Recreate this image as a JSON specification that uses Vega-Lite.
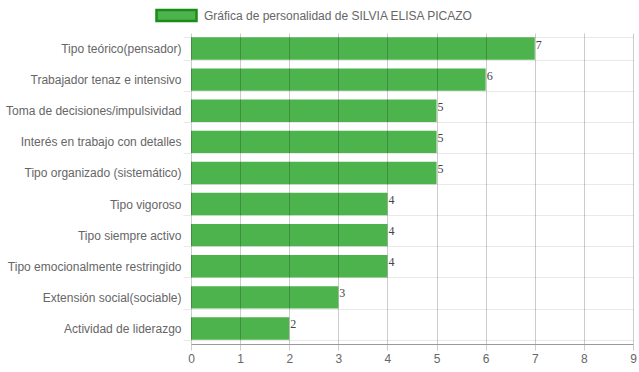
{
  "$schema": "https://vega.github.io/schema/vega-lite/v6.json",
  "width": 442,
  "height": 311,
  "autosize": "none",
  "padding": {"left": 191, "top": 33, "right": 6, "bottom": 28},
  "background": "white",
  "config": {"view": {"stroke": null}},
  "data": {
    "values": [
      {"rasgo": "Tipo teórico(pensador)", "valor": 7, "serie": "Gráfica de personalidad de SILVIA ELISA PICAZO"},
      {"rasgo": "Trabajador tenaz e intensivo", "valor": 6, "serie": "Gráfica de personalidad de SILVIA ELISA PICAZO"},
      {"rasgo": "Toma de decisiones/impulsividad", "valor": 5, "serie": "Gráfica de personalidad de SILVIA ELISA PICAZO"},
      {"rasgo": "Interés en trabajo con detalles", "valor": 5, "serie": "Gráfica de personalidad de SILVIA ELISA PICAZO"},
      {"rasgo": "Tipo organizado (sistemático)", "valor": 5, "serie": "Gráfica de personalidad de SILVIA ELISA PICAZO"},
      {"rasgo": "Tipo vigoroso", "valor": 4, "serie": "Gráfica de personalidad de SILVIA ELISA PICAZO"},
      {"rasgo": "Tipo siempre activo", "valor": 4, "serie": "Gráfica de personalidad de SILVIA ELISA PICAZO"},
      {"rasgo": "Tipo emocionalmente restringido", "valor": 4, "serie": "Gráfica de personalidad de SILVIA ELISA PICAZO"},
      {"rasgo": "Extensión social(sociable)", "valor": 3, "serie": "Gráfica de personalidad de SILVIA ELISA PICAZO"},
      {"rasgo": "Actividad de liderazgo", "valor": 2, "serie": "Gráfica de personalidad de SILVIA ELISA PICAZO"}
    ]
  },
  "encoding": {
    "y": {
      "field": "rasgo",
      "type": "nominal",
      "sort": null,
      "scale": {"paddingInner": 0.28, "paddingOuter": 0.14},
      "axis": {
        "title": null,
        "grid": true,
        "tickBand": "extent",
        "gridColor": "#e9e9e9",
        "tickColor": "#e9e9e9",
        "tickSize": 8,
        "domain": false,
        "labelPadding": 2,
        "labelColor": "#666666",
        "labelFont": "Liberation Sans",
        "labelFontSize": 12,
        "labelLimit": 400
      }
    }
  },
  "layer": [
    {
      "mark": {"type": "bar", "fill": "#4db34d"},
      "encoding": {
        "x": {
          "field": "valor",
          "type": "quantitative",
          "scale": {"domain": [0, 9], "nice": false},
          "axis": {
            "title": null,
            "values": [0, 1, 2, 3, 4, 5, 6, 7, 8, 9],
            "grid": true,
            "gridColor": "#000000",
            "gridOpacity": 0.2,
            "tickColor": "#000000",
            "tickOpacity": 0.2,
            "tickSize": 6,
            "domainColor": "#999999",
            "labelFlush": false,
            "labelPadding": 3,
            "labelColor": "#666666",
            "labelFont": "Liberation Sans",
            "labelFontSize": 12,
            "zindex": 1
          }
        },
        "color": {
          "field": "serie",
          "type": "nominal",
          "scale": {"range": ["#4db34d"]},
          "legend": {
            "title": null,
            "orient": "none",
            "legendX": -36,
            "legendY": -39,
            "symbolType": "M-1,-0.28H1V0.28H-1Z",
            "symbolSize": 1600,
            "symbolOpacity": 1,
            "labelOffset": 6,
            "labelFont": "Liberation Sans",
            "labelFontSize": 12,
            "labelColor": "#666666",
            "labelLimit": 500,
            "encode": {
              "symbols": {
                "update": {
                  "fill": {"value": "#4db34d"},
                  "stroke": {"value": "#1a8c1a"},
                  "strokeWidth": {"value": 2.5}
                }
              }
            }
          }
        }
      }
    },
    {
      "mark": {"type": "text", "align": "left", "baseline": "middle", "dx": 1, "dy": -4, "font": "Liberation Serif", "fontSize": 12, "color": "#444444"},
      "encoding": {
        "x": {"field": "valor", "type": "quantitative"},
        "text": {"field": "valor", "type": "quantitative"}
      }
    }
  ]
}
